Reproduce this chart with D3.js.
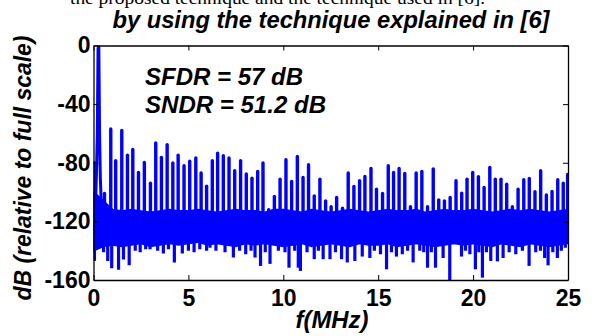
<!DOCTYPE html>
<html>
<head>
<meta charset="utf-8">
<script src="https://cdn.jsdelivr.net/npm/d3@7"></script>
<style>
  html, body { margin: 0; padding: 0; background: #fff; }
  svg { display: block; }
</style>
</head>
<body>
<svg id="chart" width="595" height="336"></svg>
<script>
// spectrum (f in MHz, level in dB full scale)
const toneF  = [0.10, 0.16, 0.20, 0.24, 0.28, 0.32, 0.36, 0.42]
const toneDb = [-112, -85, -60, -2, 0, -60, -90, -112]

const spurF = [0.03, 0.58, 0.91, 1.17, 1.49, 1.79, 2.07, 2.37, 2.68, 3.00, 3.28, 3.58, 3.88, 4.18, 4.46, 4.77,
  5.07, 5.39, 5.67, 5.96, 6.26, 6.54, 6.84, 7.14, 7.44, 7.75, 8.05, 8.35, 8.65, 8.93, 9.23, 9.53, 9.83,
  10.14, 10.44, 10.74, 11.04, 11.33, 11.63, 11.93, 12.23, 12.52, 12.81, 13.12, 13.42, 13.72, 14.02, 14.30,
  14.62, 14.91, 15.23, 15.53, 15.81, 16.10, 16.40, 16.70, 17.00, 17.30, 17.60, 17.90, 18.19, 18.49, 18.79,
  19.10, 19.40, 19.68, 19.98, 20.28, 20.58, 20.88, 21.17, 21.47, 21.77, 22.07, 22.37, 22.67, 22.96, 23.26,
  23.56, 23.86, 24.16, 24.46, 24.75, 24.98]
const spurDb = [-80, -101, -57, -78.6, -58, -74.8, -71, -86.6, -79.8, -94, -66.5, -76.3, -67.7, -80.2, -74.8, -82,
  -79, -76.8, -87, -96, -78.6, -73.4, -75.2, -76.8, -85.5, -78.6, -87.7, -90.5, -86, -80.2, -112, -103, -91.2,
  -78, -92.8, -75.7, -90, -81.4, -102.6, -91.2, -106, -110, -103.7, -111, -87, -96.2, -92.3, -89.3,
  -83.9, -98, -101, -82, -86.6, -83.9, -87.3, -110, -87, -86, -110, -84.3, -105.3, -106, -103.7,
  -92.3, -100.7, -91.2, -86.6, -89.6, -96.9, -83.2, -91.2, -91.2, -94.6, -110, -98, -91.6, -90.7, -99.8,
  -85.5, -102, -99.6, -91.6, -93.9, -88]

const dipF = [0.05, 0.53, 0.75, 0.96, 1.32, 1.58, 1.88, 2.20, 2.46, 2.75, 2.98, 3.38, 3.68, 3.95, 4.26, 4.68, 5.00,
  5.30, 5.60, 5.96, 6.14, 6.45, 6.93, 7.37, 7.70, 8.02, 8.30, 8.51, 8.80, 9.05, 9.30, 9.74, 10.09, 10.30,
  10.60, 10.79, 10.90, 11.25, 11.63, 11.85, 12.10, 12.46, 12.75, 13.07, 13.37, 13.77, 14.16, 14.56, 14.80,
  15.12, 15.44, 15.70, 15.96, 16.27, 16.55, 16.84, 17.19, 17.40, 17.60, 17.80, 18.02, 18.42, 18.77, 19.39,
  19.60, 19.83, 20.12, 20.30, 20.49, 20.70, 20.93, 21.28, 21.58, 21.90, 22.25, 22.60, 22.95, 23.30, 23.55,
  23.77, 23.95, 24.20, 24.44, 24.65, 24.86]
const dipDb = [-147, -141, -147, -152, -153, -146, -150, -140, -141, -139, -139, -140, -142, -139, -148, -142, -140,
  -141, -139, -140, -138, -140, -141, -144.7, -140, -142.5, -140, -144.7, -150.4, -141, -149, -140, -141, -151.6,
  -140, -151.6, -153.8, -141, -145.8, -140, -145.8, -145.8, -141, -145.8, -148, -147, -144, -145, -140,
  -142.5, -152.7, -141, -144, -142.5, -140, -148, -140, -141, -151.6, -141, -151.6, -145, -160, -144,
  -140, -142.5, -152.7, -141, -158.4, -141, -147, -147.3, -145, -141, -142.5, -140, -150.4, -141, -140,
  -145, -150, -141, -145, -140, -138]

// noise floor envelope, one value every 0.5 MHz from 0 to 25 MHz
const floorF = d3.range(0, 25.01, 0.5)
const floorTop = [-100, -106, -112, -113, -112, -113, -114, -113, -112, -113,
  -113, -112, -113, -114, -113, -112, -113, -113, -114, -112,
  -112, -113, -114, -112, -113, -114, -113, -112, -113, -114,
  -113, -112, -113, -113, -112, -114, -113, -112, -113, -113,
  -112, -113, -114, -113, -112, -113, -112, -113, -114, -113, -112]
const floorBottom = [-140, -137, -136, -137, -136, -135, -137, -136, -135, -136,
  -135, -134, -136, -135, -136, -137, -135, -136, -135, -136,
  -137, -136, -135, -137, -136, -135, -136, -137, -135, -136,
  -136, -135, -137, -136, -135, -136, -137, -136, -135, -136,
  -135, -136, -137, -135, -136, -137, -135, -136, -137, -136, -135]

const xTicks = [0, 5, 10, 15, 20, 25]
const yTicks = [0, -40, -80, -120, -160]

const title = 'by using the technique explained in [6]'
const caption = 'the proposed technique and the technique used in [6].'
const notes = ['SFDR = 57 dB', 'SNDR = 51.2 dB']

const svg = d3.select('#chart')
const margin = { top: 45.5, right: 27, bottom: 56, left: 93.5 }
const width = 595, height = 336
const blue = '#0000ff'
const sans = '"Liberation Sans", Arial, sans-serif'

const x = d3.scaleLinear().domain([0, 25]).range([margin.left, width - margin.right])
const y = d3.scaleLinear().domain([-160, 0]).range([height - margin.bottom, margin.top])

// helper: squeeze/stretch a text to the width it has in the picture
function fit(sel, w) {
  sel.attr('textLength', w).attr('lengthAdjust', 'spacingAndGlyphs')
}
function boldItalic(sel, size) {
  sel.style('font-family', sans).style('font-weight', 'bold').style('font-style', 'italic')
    .style('font-size', size + 'px')
}

// clipped caption line at the very top
svg.append('text')
  .attr('x', 70).attr('y', 4)
  .style('font-family', '"Liberation Serif", "Times New Roman", serif')
  .style('font-size', '17px')
  .text(caption)
  .call(fit, 415)

svg.append('text')
  .attr('x', 331).attr('y', 27.5)
  .attr('text-anchor', 'middle')
  .call(boldItalic, 23)
  .text(title)
  .call(fit, 437)

const plot = svg.append('g')
svg.append('clipPath').attr('id', 'clip')
  .append('rect')
  .attr('x', x(0)).attr('y', y(0))
  .attr('width', x(25) - x(0)).attr('height', y(-160) - y(0))
plot.attr('clip-path', 'url(#clip)')

// noise band
plot.append('path')
  .datum(floorF)
  .attr('d', d3.area()
    .x(d => x(d))
    .y0((d, i) => y(floorBottom[i]))
    .y1((d, i) => y(floorTop[i])))
  .attr('fill', blue)
  .attr('stroke', blue)
  .attr('stroke-width', 2)

// dips below the floor
plot.append('g')
  .selectAll('line')
  .data(dipF)
  .join('line')
  .attr('x1', d => x(d)).attr('x2', d => x(d))
  .attr('y1', y(-125))
  .attr('y2', (d, i) => y(dipDb[i]))
  .attr('stroke', blue).attr('stroke-width', 3.2)

// harmonic / spurious tones
plot.append('g')
  .selectAll('line')
  .data(spurF)
  .join('line')
  .attr('x1', d => x(d)).attr('x2', d => x(d))
  .attr('y1', y(-125))
  .attr('y2', (d, i) => y(spurDb[i]))
  .attr('stroke', blue).attr('stroke-width', 3.4)
  .attr('stroke-linecap', 'round')

// the input tone
plot.append('path')
  .datum(toneF)
  .attr('d', d3.line().x(d => x(d)).y((d, i) => y(toneDb[i])))
  .attr('fill', 'none')
  .attr('stroke', blue).attr('stroke-width', 3)

// axes box with inward ticks
const axisStyle = g => {
  g.select('.domain').attr('stroke', '#000').attr('stroke-width', 1.3)
  g.selectAll('.tick line').attr('stroke', '#000').attr('stroke-width', 1)
  g.selectAll('text')
    .style('font-family', sans).style('font-weight', 'bold')
    .style('font-size', '23px').attr('fill', '#000')
}

svg.append('g')
  .attr('transform', `translate(0,${y(-160)})`)
  .call(d3.axisBottom(x).tickValues(xTicks).tickSizeInner(-5).tickSizeOuter(0).tickPadding(10).tickFormat(d => String(d)))
  .call(axisStyle)

svg.append('g')
  .attr('transform', `translate(0,${y(0)})`)
  .call(d3.axisTop(x).tickValues(xTicks).tickSizeInner(-5).tickSizeOuter(0).tickFormat(''))
  .call(axisStyle)

svg.append('g')
  .attr('transform', `translate(${x(0)},0)`)
  .call(d3.axisLeft(y).tickValues(yTicks).tickSizeInner(-5).tickSizeOuter(0).tickPadding(3).tickFormat(d => String(d)))
  .call(axisStyle)

svg.append('g')
  .attr('transform', `translate(${x(25)},0)`)
  .call(d3.axisRight(y).tickValues(yTicks).tickSizeInner(-5).tickSizeOuter(0).tickFormat(''))
  .call(axisStyle)

// annotations
svg.append('g')
  .selectAll('text')
  .data(notes)
  .join('text')
  .attr('x', 145)
  .attr('y', (d, i) => 85 + i * 28)
  .call(boldItalic, 23)
  .text(d => d)
  .each(function (d, i) { d3.select(this).call(fit, [158, 181][i]) })

// axis titles
svg.append('text')
  .attr('x', 332).attr('y', 328)
  .attr('text-anchor', 'middle')
  .call(boldItalic, 23)
  .text('f(MHz)')
  .call(fit, 73)

svg.append('text')
  .attr('transform', `translate(31,168) rotate(-90)`)
  .attr('text-anchor', 'middle')
  .call(boldItalic, 23)
  .text('dB (relative to full scale)')
  .call(fit, 265)
</script>
</body>
</html>
